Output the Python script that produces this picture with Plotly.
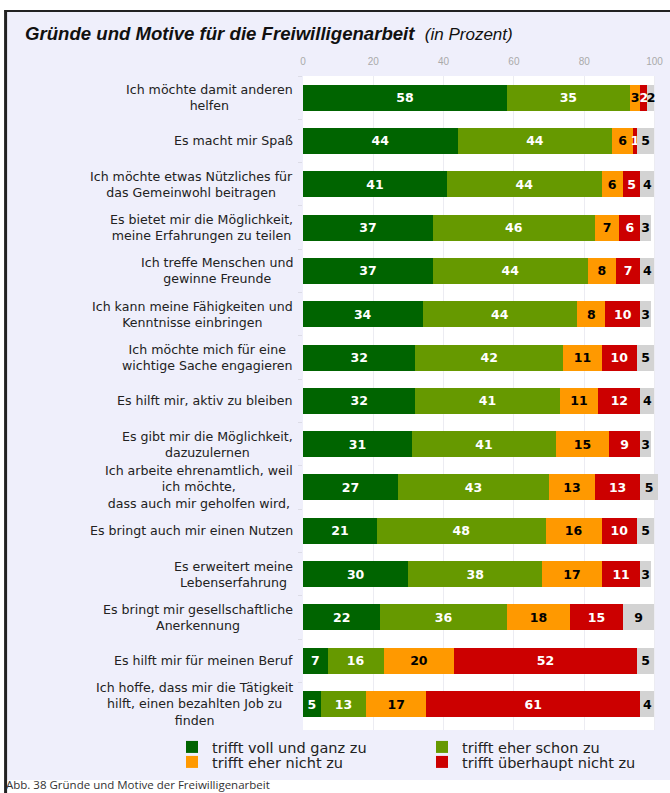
import plotly.graph_objects as go

categories = [
    "Ich möchte damit anderen<br>helfen",
    "Es macht mir Spaß",
    "Ich möchte etwas Nützliches für<br>das Gemeinwohl beitragen",
    "Es bietet mir die Möglichkeit,<br>meine Erfahrungen zu teilen",
    "Ich treffe Menschen und<br>gewinne Freunde",
    "Ich kann meine Fähigkeiten und<br>Kenntnisse einbringen",
    "Ich möchte mich für eine<br>wichtige Sache engagieren",
    "Es hilft mir, aktiv zu bleiben",
    "Es gibt mir die Möglichkeit,<br>dazuzulernen",
    "Ich arbeite ehrenamtlich, weil<br>ich möchte,<br>dass auch mir geholfen wird,",
    "Es bringt auch mir einen Nutzen",
    "Es erweitert meine<br>Lebenserfahrung",
    "Es bringt mir gesellschaftliche<br>Anerkennung",
    "Es hilft mir für meinen Beruf",
    "Ich hoffe, dass mir die Tätigkeit<br>hilft, einen bezahlten Job zu<br>finden",
]

voll_und_ganz = [58, 44, 41, 37, 37, 34, 32, 32, 31, 27, 21, 30, 22, 7, 5]
eher_schon = [35, 44, 44, 46, 44, 44, 42, 41, 41, 43, 48, 38, 36, 16, 13]
eher_nicht = [3, 6, 6, 7, 8, 8, 11, 11, 15, 13, 16, 17, 18, 20, 17]
ueberhaupt_nicht = [2, 1, 5, 6, 7, 10, 10, 12, 9, 13, 10, 11, 15, 52, 61]
keine_angabe = [2, 5, 4, 3, 4, 3, 5, 4, 3, 5, 5, 3, 9, 5, 4]

series_names = ["trifft voll und ganz zu", "trifft eher schon zu",
                "trifft eher nicht zu", "trifft überhaupt nicht zu", "keine Angabe"]
series_values = [voll_und_ganz, eher_schon, eher_nicht, ueberhaupt_nicht, keine_angabe]
series_colors = ["#006400", "#669900", "#ff9900", "#cc0000", "#d3d3d3"]
text_colors = ["white", "white", "black", "white", "black"]

title_main = "Gründe und Motive für die Freiwilligenarbeit"
title_sub = "(in Prozent)"
caption = "Abb. 38 Gründe und Motive der Freiwilligenarbeit"
x_ticks = [0, 20, 40, 60, 80, 100]

W, H = 670, 793
X_MAX = 101
L, T, B = 303, 76, 63
PW = 351 * X_MAX / 100
R = W - L - PW
PH = H - T - B

def px_x(px):
    return (px - L) / PW

def px_y(py):
    return (H - B - py) / PH

# legend slots: (legend id, left px, top px)
legend_slots = [("legend", 172, 731), ("legend2", 422, 731),
                ("legend3", 172, 746), ("legend4", 422, 746), (None, 0, 0)]

fig = go.Figure()
for i, (name, vals) in enumerate(zip(series_names, series_values)):
    leg = legend_slots[i][0]
    fig.add_trace(go.Bar(
        y=categories, x=vals, name=name, orientation="h",
        marker=dict(color=series_colors[i], line=dict(width=0)),
        text=[str(v) for v in vals], textposition="inside",
        insidetextanchor="middle", textangle=0,
        textfont=dict(family="DejaVu Sans", size=12.5, color=text_colors[i], weight="bold"),
        width=0.6, cliponaxis=False,
        showlegend=leg is not None,
        legend=leg if leg else "legend",
        hoverinfo="skip",
    ))

for c in categories:
    fig.add_annotation(
        x=px_x(295), xref="paper", y=c, yref="y", text=c,
        xanchor="right", yanchor="middle", align="center", showarrow=False,
        font=dict(family="DejaVu Sans", size=12.6, color="#222222"),
    )

shapes = [
    dict(type="rect", xref="paper", yref="paper", layer="below",
         x0=px_x(5), x1=px_x(672), y0=px_y(780), y1=px_y(11),
         fillcolor="#efeffb", line=dict(width=0)),
    dict(type="rect", xref="paper", yref="paper", layer="below",
         x0=0, x1=px_x(654), y0=0, y1=1, fillcolor="white", line=dict(width=0)),
    dict(type="line", xref="paper", yref="paper", layer="above",
         x0=px_x(5), x1=px_x(672), y0=px_y(11), y1=px_y(11),
         line=dict(color="#222222", width=2)),
    dict(type="line", xref="paper", yref="paper", layer="above",
         x0=px_x(6), x1=px_x(6), y0=px_y(795), y1=px_y(10),
         line=dict(color="#222222", width=3)),
]

fig.add_annotation(
    x=px_x(4), xref="paper", y=px_y(785), yref="paper", text=caption,
    xanchor="left", yanchor="middle", showarrow=False,
    font=dict(family="Open Sans", size=11.5, color="#333333"),
)

legend_layouts = {}
for leg, lx, ly in legend_slots:
    if leg is None:
        continue
    legend_layouts[leg] = dict(
        orientation="h", xref="container", yref="container",
        x=lx / W, y=1 - ly / H, xanchor="left", yanchor="top",
        bgcolor="rgba(0,0,0,0)", borderwidth=0,
        font=dict(family="DejaVu Sans", size=14.5, color="#222222"),
        itemwidth=30,
    )

fig.update_layout(
    width=W, height=H,
    margin=dict(l=L, r=R, t=T, b=B, pad=0, autoexpand=False),
    barmode="stack",
    paper_bgcolor="white", plot_bgcolor="rgba(0,0,0,0)",
    title=dict(
        text=(f"<b>{title_main}</b>  "
              f"<span style='font-weight:normal;font-size:17px'>{title_sub}</span>"),
        x=25 / W, xanchor="left", xref="container",
        y=1 - 33 / H, yanchor="middle", yref="container",
        font=dict(family="Liberation Sans Narrow, Liberation Sans", size=18.6,
                  color="#111111", style="italic"),
    ),
    xaxis=dict(
        range=[0, X_MAX], side="top", tickvals=x_ticks,
        showgrid=True, gridcolor="#ececf2", gridwidth=1,
        zeroline=False, showline=False,
        ticks="outside", ticklen=6, tickcolor="rgba(0,0,0,0)",
        tickfont=dict(family="Liberation Sans", size=10, color="#aaaaaa"),
        fixedrange=True,
    ),
    yaxis=dict(
        autorange="reversed", showticklabels=False,
        ticks="outside", ticklen=4, tickcolor="#dcdce6", tickson="boundaries",
        showgrid=False, zeroline=False, showline=False, fixedrange=True,
    ),
    uniformtext=dict(minsize=12.5, mode="show"),
    shapes=shapes,
    showlegend=True,
    **legend_layouts,
)

fig.write_html("out.html", config={"displayModeBar": False},
               post_script="document.body.style.margin='0px';")
